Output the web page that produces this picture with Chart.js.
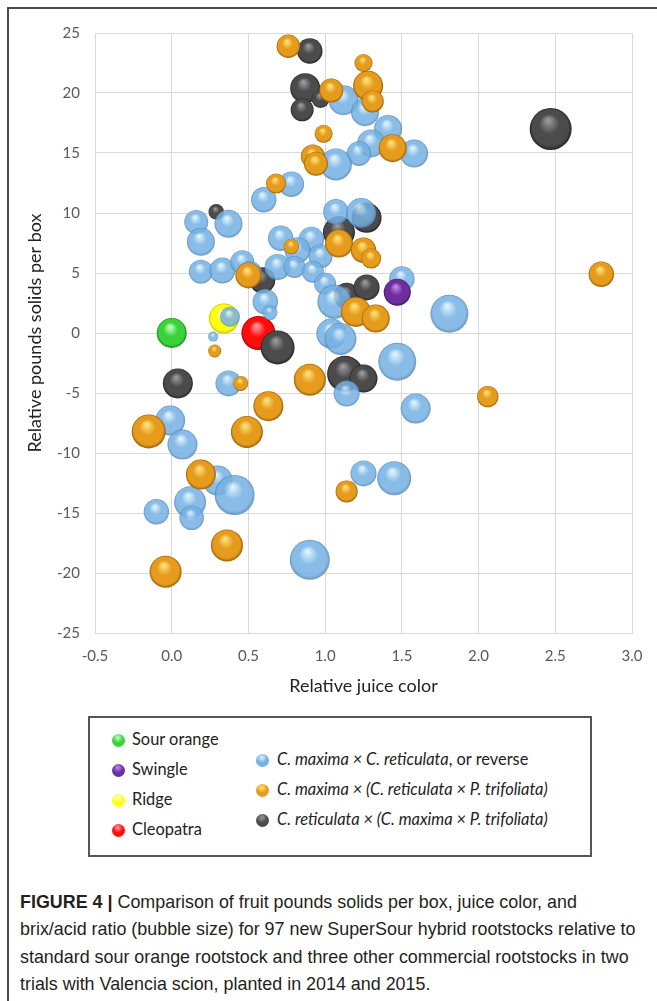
<!DOCTYPE html>
<html>
<head>
<meta charset="utf-8">
<script src="https://cdn.jsdelivr.net/npm/chart.js@4.4.1/dist/chart.umd.min.js"></script>
<style>
  html, body { margin: 0; padding: 0; background: #fff; }
  body { width: 657px; height: 1001px; position: relative; overflow: hidden; font-family: Lato, "Liberation Sans", sans-serif; }
  #frame { position: absolute; left: 7px; top: 7px; width: 660px; height: 1010px; border-top: 2px solid #4a4a4a; border-left: 2px solid #4a4a4a; }
  #wrap { position: absolute; left: 0; top: 0; width: 657px; height: 710px; }
  #legend { position: absolute; left: 88px; top: 716px; width: 500px; height: 137px; border: 2px solid #555; background: #fff; }
  .item { position: absolute; font-size: 16.4px; color: #222; white-space: nowrap; line-height: 20px; }
  .item i { font-style: italic; }
  .dot { position: absolute; width: 13px; height: 13px; border-radius: 50%; }
  #caption { position: absolute; left: 20px; top: 889px; font-family: "Liberation Sans", Arial, sans-serif; font-size: 17.9px; color: #231f20; }
  #caption div { white-space: nowrap; height: 27.3px; line-height: 27px; }
  #caption b { font-weight: bold; }
</style>
</head>
<body>
<div id="frame"></div>
<div id="wrap"><canvas id="chart" width="657" height="710"></canvas></div>

<div id="legend"></div>

<div id="caption">
  <div><b>FIGURE 4 |</b> Comparison of fruit pounds solids per box, juice color, and</div>
  <div>brix/acid ratio (bubble size) for 97 new SuperSour hybrid rootstocks relative to</div>
  <div>standard sour orange rootstock and three other commercial rootstocks in two</div>
  <div>trials with Valencia scion, planted in 2014 and 2015.</div>
</div>

<script>
// ─────────────────────────────────────────────
//  DATA  (x = relative juice color, y = relative pounds solids, size = brix/acid bubble)
// ─────────────────────────────────────────────

const xTicks = [-0.5, 0.0, 0.5, 1.0, 1.5, 2.0, 2.5, 3.0];
const yTicks = [-25, -20, -15, -10, -5, 0, 5, 10, 15, 20, 25];

// C. reticulata × (C. maxima × P. trifoliata)
const darkColor  = [0.90, 0.87, 0.97, 0.85, 0.29, 1.09, 1.27, 0.59, 1.14, 1.27, 0.69, 0.04, 1.13, 1.25, 2.47];
const darkSolids = [23.5, 20.4, 19.5, 18.6, 10.1, 8.4, 9.6, 4.4, 3.1, 3.8, -1.2, -4.2, -3.4, -3.8, 17.0];
const darkSize   = [12.7, 15, 9, 11.5, 7.7, 16, 15, 13, 13, 13, 17, 15, 18, 14, 21];

// C. maxima × C. reticulata, or reverse
const blueColor  = [1.12, 1.26, 1.41, 1.30, 1.22, 1.58, 1.07, 0.78, 0.60, 0.16, 0.37, 0.19, 1.07, 1.235,
                    0.71, 0.91, 0.82, 0.97, 0.69, 0.80, 0.92, 1.00, 0.19, 0.33, 0.46, 0.51, 0.61, 0.64,
                    0.38, 0.27, 1.06, 1.50, 1.81, 1.04, 1.10, 1.47, 1.14, 1.59, 0.37, -0.01, 0.07,
                    0.30, 0.41, 0.12, -0.10, 0.13, 0.90, 1.25, 1.45];
const blueSolids = [19.4, 18.4, 17.0, 15.8, 14.95, 14.95, 14.05, 12.4, 11.1, 9.25, 9.1, 7.6, 10.1, 10.0,
                    7.9, 7.8, 6.9, 6.4, 5.5, 5.5, 5.1, 4.1, 5.1, 5.2, 5.9, 5.0, 2.6, 1.7,
                    1.35, -0.3, 2.6, 4.5, 1.6, -0.05, -0.5, -2.4, -5.05, -6.3, -4.2, -7.3, -9.3,
                    -12.3, -13.5, -14.1, -14.9, -15.4, -18.9, -11.7, -12.1];
const blueSize   = [15, 14, 14, 14, 12.3, 14, 16, 12.7, 12.7, 12, 14, 14, 12.7, 15,
                    12.7, 12.7, 13, 12, 13, 11, 11, 11, 12, 13, 12, 12, 12.7, 7.5,
                    10, 5, 17, 12.7, 19, 15, 16, 19, 13, 15, 13, 15, 15,
                    15, 20, 16, 12.7, 12.3, 20, 13, 17];

// C. maxima × (C. reticulata × P. trifoliata)
const orangeColor  = [0.76, 1.25, 1.04, 1.28, 1.31, 0.99, 0.92, 0.94, 1.44, 0.68, 0.78, 0.50, 1.09, 1.25,
                      1.30, 1.20, 1.33, 2.80, 0.28, 0.45, 0.90, 0.63, 2.06, -0.15, 0.49, 0.19, 1.14,
                      0.36, -0.04];
const orangeSolids = [23.9, 22.5, 20.2, 20.6, 19.3, 16.6, 14.7, 14.1, 15.4, 12.45, 7.2, 4.8, 7.45, 6.9,
                      6.2, 1.75, 1.2, 4.9, -1.5, -4.2, -3.9, -6.1, -5.3, -8.2, -8.25, -11.8, -13.2,
                      -17.7, -19.9];
const orangeSize   = [11.7, 9, 12, 15, 11, 9, 12, 12, 14, 10, 7.7, 13, 14, 12.7,
                      10, 15, 14, 12.7, 6.5, 7.5, 16, 15, 10.7, 17, 16, 15, 11,
                      16, 16];

// commercial rootstocks: Sour orange, Swingle, Ridge, Cleopatra
const stockNames  = ['Sour orange', 'Swingle', 'Ridge', 'Cleopatra'];
const stockColor  = [0.00, 1.47, 0.34, 0.565];
const stockSolids = [0.0, 3.4, 1.2, 0.0];
const stockSize   = [15, 13.5, 15, 17];

const groupNames = [
  'C. maxima × C. reticulata, or reverse',
  'C. maxima × (C. reticulata × P. trifoliata)',
  'C. reticulata × (C. maxima × P. trifoliata)'
];

// ─────────────────────────────────────────────
//  STYLE
// ─────────────────────────────────────────────

const SIZE_PX = 1;   // bubble size unit -> radius px

// [highlight, base, rim]
const shades = {
  blue:   ['#d8f2ff', '#74b0e2', '#4f86b8'],
  orange: ['#ffe27a', '#e59b1c', '#9e5f08'],
  dark:   ['#9a9a9a', '#4b4b4b', '#262626'],
  green:  ['#c8ffc0', '#3ad23a', '#188c18'],
  purple: ['#c18ae8', '#6e2ea0', '#3f1562'],
  yellow: ['#ffffe0', '#ffff10', '#c9c400'],
  red:    ['#ffa0a0', '#ff0d0d', '#b00000']
};

// radial gradient per bubble, so each one reads as a sphere
function sphere(shade) {
  const [hi, base, rim] = shades[shade];
  return (ctx) => {
    const chart = ctx.chart;
    const p = ctx.raw;
    if (!p || !chart.chartArea) return base;
    const x = chart.scales.x.getPixelForValue(p.x);
    const y = chart.scales.y.getPixelForValue(p.y);
    const r = p.r;
    const g = chart.ctx.createRadialGradient(x - r * 0.12, y - r * 0.42, r * 0.05, x, y, r);
    g.addColorStop(0, hi);
    g.addColorStop(0.45, base);
    g.addColorStop(0.85, base);
    g.addColorStop(1, rim);
    return g;
  };
}

function pts(xs, ys, ss) {
  return xs.map((x, i) => ({ x: x, y: ys[i], r: ss[i] * SIZE_PX }));
}

const stockShade = ['green', 'purple', 'yellow', 'red'];

const datasets = [
  { label: stockNames[3], data: pts([stockColor[3]], [stockSolids[3]], [stockSize[3]]), backgroundColor: sphere('red'), order: 7 },
  { label: stockNames[2], data: pts([stockColor[2]], [stockSolids[2]], [stockSize[2]]), backgroundColor: sphere('yellow'), order: 6 },
  { label: groupNames[2], data: pts(darkColor, darkSolids, darkSize), backgroundColor: sphere('dark'), order: 5 },
  { label: groupNames[0], data: pts(blueColor, blueSolids, blueSize), backgroundColor: sphere('blue'), order: 4, opacity: 0.85 },
  { label: groupNames[1], data: pts(orangeColor, orangeSolids, orangeSize), backgroundColor: sphere('orange'), order: 3 },
  { label: stockNames[0], data: pts([stockColor[0]], [stockSolids[0]], [stockSize[0]]), backgroundColor: sphere('green'), order: 2 },
  { label: stockNames[1], data: pts([stockColor[1]], [stockSolids[1]], [stockSize[1]]), backgroundColor: sphere('purple'), order: 1 }
];
datasets.forEach(d => { d.borderWidth = 0; d.hoverBorderWidth = 0; });

// translucent blue spheres
const alphaPlugin = {
  id: 'alpha',
  beforeDatasetDraw(chart, args) {
    const o = chart.data.datasets[args.index].opacity;
    if (o) { chart.ctx.save(); chart.ctx.globalAlpha = o; }
  },
  afterDatasetDraw(chart, args) {
    if (chart.data.datasets[args.index].opacity) chart.ctx.restore();
  }
};

const tickFont  = { family: 'Lato', size: 15 };
const titleFont = { family: 'Lato', size: 18 };

new Chart(document.getElementById('chart').getContext('2d'), {
  type: 'bubble',
  data: { datasets: datasets },
  plugins: [alphaPlugin],
  options: {
    responsive: false,
    animation: false,
    events: [],
    layout: { padding: { left: 0, top: 33, right: 25, bottom: 0 } },
    plugins: { legend: { display: false }, tooltip: { enabled: false } },
    scales: {
      x: {
        type: 'linear', min: xTicks[0], max: xTicks[xTicks.length - 1],
        afterBuildTicks: s => { s.ticks = xTicks.map(v => ({ value: v })); },
        afterFit: s => { s.height = 77; },
        ticks: { color: '#595959', font: tickFont, padding: 14, callback: v => v.toFixed(1), maxRotation: 0 },
        grid: { color: '#d9d9d9', drawTicks: false },
        border: { color: '#d9d9d9' },
        title: { display: true, text: 'Relative juice color', color: '#222', font: titleFont, padding: { top: 0, bottom: 13 } }
      },
      y: {
        type: 'linear', min: yTicks[0], max: yTicks[yTicks.length - 1],
        afterBuildTicks: s => { s.ticks = yTicks.map(v => ({ value: v })); },
        afterFit: s => { s.width = 95; },
        ticks: { color: '#595959', font: tickFont, padding: 15 },
        grid: { color: '#d9d9d9', drawTicks: false },
        border: { color: '#d9d9d9' },
        title: { display: true, text: 'Relative pounds solids per box', color: '#222', font: titleFont, padding: { top: 24, bottom: 0 } }
      }
    }
  }
});

// ─────────────────────────────────────────────
//  LEGEND
// ─────────────────────────────────────────────

function dotStyle(shade) {
  const [hi, base, rim] = shades[shade];
  return `background: radial-gradient(circle at 45% 28%, ${hi} 0%, ${base} 45%, ${base} 80%, ${rim} 100%);`;
}

const legend = document.getElementById('legend');
const leftRows  = [22, 52, 82, 112];
const rightRows = [42, 72, 102];
legend.innerHTML =
  stockNames.map((n, i) => `
    <span class="dot" style="left:${22}px;top:${leftRows[i] - 6}px;${dotStyle(stockShade[i])}"></span>
    <span class="item" style="left:${42}px;top:${leftRows[i] - 11}px">${n}</span>`).join('') +
  ['blue', 'orange', 'dark'].map((s, i) => {
    const html = groupNames[i]
      .replace(/(C\. maxima|C\. reticulata|P\. trifoliata)/g, '<i>$1</i>')
      .replace('(', '<i>(</i>').replace(')', '<i>)</i>').replace(/ × /g, '<i> × </i>');
    return `
    <span class="dot" style="left:${166}px;top:${rightRows[i] - 6}px;${dotStyle(s)}"></span>
    <span class="item" style="left:${187}px;top:${rightRows[i] - 11}px">${html}</span>`;
  }).join('');
</script>
</body>
</html>
